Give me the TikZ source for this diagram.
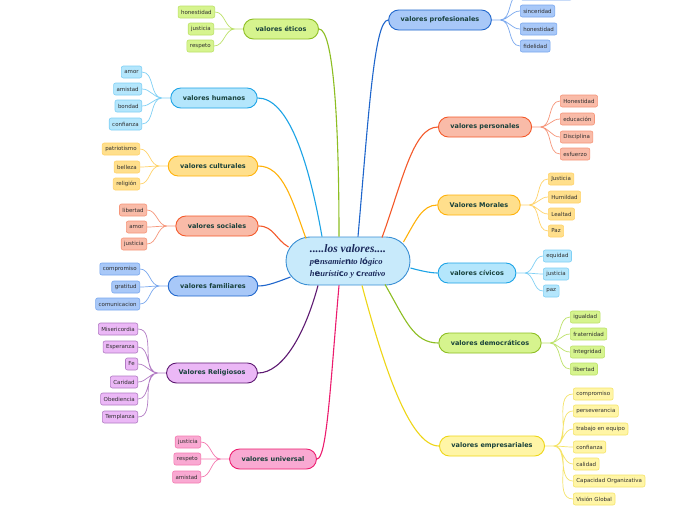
\documentclass[tikz,border=0pt]{standalone}
\usepackage{fontspec}
\usepackage{tikz}
\usetikzlibrary{calc}
\newfontfamily\mapfont{DejaVu Sans}
\newfontfamily\corefont{Liberation Serif}
\newcommand\glyf[1]{{\mapfont\upshape\bfseries #1}}
\definecolor{coreFill}{HTML}{C8EAFB}
\definecolor{coreDark}{HTML}{3A8FD4}
\definecolor{coreText}{HTML}{1B2A5C}
\definecolor{branchText}{HTML}{17403A}
\definecolor{leafText}{HTML}{2E2E2E}
\definecolor{limeFill}{HTML}{D6F48E}
\definecolor{limeDark}{HTML}{8DBE22}
\definecolor{limeSoft}{HTML}{BDE26A}
\definecolor{skyFill}{HTML}{B4E6FC}
\definecolor{skyDark}{HTML}{1BA3E6}
\definecolor{skySoft}{HTML}{80D0F5}
\definecolor{goldFill}{HTML}{FFDF8C}
\definecolor{goldDark}{HTML}{FFB20A}
\definecolor{goldSoft}{HTML}{FFD36A}
\definecolor{salmonFill}{HTML}{F9BBA8}
\definecolor{salmonDark}{HTML}{F4592A}
\definecolor{salmonSoft}{HTML}{F6967A}
\definecolor{azureFill}{HTML}{A8C8F8}
\definecolor{azureDark}{HTML}{1F66CC}
\definecolor{azureSoft}{HTML}{7AA8EE}
\definecolor{plumFill}{HTML}{EBB8F6}
\definecolor{plumDark}{HTML}{5E1A72}
\definecolor{plumSoft}{HTML}{B27BC4}
\definecolor{roseFill}{HTML}{F9A9D2}
\definecolor{roseDark}{HTML}{EC1C6E}
\definecolor{roseSoft}{HTML}{F47AB0}
\definecolor{lemonFill}{HTML}{FFF5A6}
\definecolor{lemonDark}{HTML}{EED616}
\definecolor{lemonSoft}{HTML}{F5E46A}

\begin{document}
\begin{tikzpicture}[x=1pt, y=-1pt,
  branch/.style={draw=#1Dark, fill=#1Fill, line width=0.9pt, rounded corners=10pt, minimum height=20pt, inner xsep=12pt, inner ysep=0pt, text=branchText, font=\mapfont\bfseries\fontsize{6.5}{7}\selectfont},
  leaf/.style={draw=#1Soft, fill=#1Fill, line width=0.6pt, rounded corners=2pt, minimum height=12pt, inner xsep=3pt, inner ysep=0pt, text=leafText, font=\mapfont\fontsize{5.5}{6}\selectfont},
  limb/.style={draw=#1Dark, line width=1.1pt},
  twig/.style={draw=#1Soft, line width=0.7pt}]
\useasboundingbox[fill=white] (0,0) rectangle (696,520);

\node[draw=coreDark, fill=coreFill, line width=0.9pt, rounded corners=24pt, minimum width=124pt, minimum height=48pt, inner sep=0pt, align=left, text=coreText, font=\corefont\bfseries\itshape] (core) at (348,261)
  {{\fontsize{11.5}{13}\selectfont .....los valores....}\\
   {\fontsize{8.5}{11.5}\selectfont p\glyf{e}nsamie\glyf{n}to l\glyf{ó}gico}\\
   {\fontsize{8.5}{11.5}\selectfont h\glyf{e}urísti\glyf{c}o y \glyf{c}reativo}};

\node[branch=lime] (etic) at (281,29) {valores éticos};
\node[branch=sky] (huma) at (214,98) {valores humanos};
\node[branch=gold] (cult) at (213,166) {valores culturales};
\node[branch=salmon] (soci) at (217,226) {valores sociales};
\node[branch=azure] (fami) at (213,286) {valores familiares};
\node[branch=plum] (reli) at (212,373) {Valores Religiosos};
\node[branch=rose] (univ) at (273,459) {valores universal};
\node[branch=azure] (prof) at (440,20) {valores profesionales};
\node[branch=salmon] (pers) at (485,127) {valores personales};
\node[branch=gold] (mora) at (479,205) {Valores Morales};
\node[branch=sky] (civi) at (477,273) {valores cívicos};
\node[branch=lime] (demo) at (490,343) {valores democráticos};
\node[branch=lemon] (empr) at (492,446) {valores empresariales};

\draw[limb=lime] (etic.east) to[out=0, in=90, out distance=14pt, in distance=120pt] ($(core.north)+(-9,0)$);
\draw[limb=sky] (huma.east) to[out=0, in=100, out distance=30pt, in distance=80pt] ($(core.north)+(-26,0)$);
\draw[limb=gold] (cult.east) to[out=0, in=110, out distance=25pt, in distance=40pt] ($(core.north)+(-42,2)$);
\draw[limb=salmon] (soci.east) to[out=0, in=150, out distance=15pt, in distance=15pt] ($(core.west)+(3,-14)$);
\draw[limb=azure] (fami.east) to[out=0, in=200, out distance=10pt, in distance=10pt] ($(core.west)+(5,16)$);
\draw[limb=plum] (reli.east) to[out=0, in=-105, out distance=25pt, in distance=50pt] ($(core.south)+(-30,0)$);
\draw[limb=rose] (univ.east) to[out=0, in=-95, out distance=10pt, in distance=100pt] ($(core.south)+(-9,0)$);
\draw[limb=azure] (prof.west) to[out=180, in=85, out distance=14pt, in distance=120pt] ($(core.north)+(10,0)$);
\draw[limb=salmon] (pers.west) to[out=180, in=70, out distance=25pt, in distance=60pt] ($(core.north)+(34,1)$);
\draw[limb=gold] (mora.west) to[out=180, in=60, out distance=15pt, in distance=25pt] ($(core.east)+(-7,-19)$);
\draw[limb=sky] (civi.west) to[out=180, in=-15, out distance=8pt, in distance=8pt] ($(core.east)+(0,7)$);
\draw[limb=lime] (demo.west) to[out=180, in=-60, out distance=25pt, in distance=40pt] ($(core.south)+(37,-1)$);
\draw[limb=lemon] (empr.west) to[out=180, in=-75, out distance=30pt, in distance=80pt] ($(core.south)+(14,0)$);

\node[leaf=lime, anchor=east] (etic1) at (215,12) {honestidad};
\node[leaf=lime, anchor=east] (etic2) at (214,29) {justicia};
\node[leaf=lime, anchor=east] (etic3) at (214,46) {respeto};
\node[leaf=sky, anchor=east] (huma1) at (142,72) {amor};
\node[leaf=sky, anchor=east] (huma2) at (142,89) {amistad};
\node[leaf=sky, anchor=east] (huma3) at (142,106) {bondad};
\node[leaf=sky, anchor=east] (huma4) at (142,124) {confianza};
\node[leaf=gold, anchor=east] (cult1) at (140,149) {patriotismo};
\node[leaf=gold, anchor=east] (cult2) at (140,167) {belleza};
\node[leaf=gold, anchor=east] (cult3) at (140,184) {religión};
\node[leaf=salmon, anchor=east] (soci1) at (147,210) {libertad};
\node[leaf=salmon, anchor=east] (soci2) at (147,227) {amor};
\node[leaf=salmon, anchor=east] (soci3) at (147,244) {justicia};
\node[leaf=azure, anchor=east] (fami1) at (140,269) {compromiso};
\node[leaf=azure, anchor=east] (fami2) at (140,287) {gratitud};
\node[leaf=azure, anchor=east] (fami3) at (140,304) {comunicacion};
\node[leaf=plum, anchor=east] (reli1) at (138,329) {Misericordia};
\node[leaf=plum, anchor=east] (reli2) at (138,347) {Esperanza};
\node[leaf=plum, anchor=east] (reli3) at (138,364) {Fe};
\node[leaf=plum, anchor=east] (reli4) at (138,382) {Caridad};
\node[leaf=plum, anchor=east] (reli5) at (138,399) {Obediencia};
\node[leaf=plum, anchor=east] (reli6) at (138,417) {Templanza};
\node[leaf=rose, anchor=east] (univ1) at (201,442) {justicia};
\node[leaf=rose, anchor=east] (univ2) at (201,459) {respeto};
\node[leaf=rose, anchor=east] (univ3) at (201,477) {amistad};

\node[leaf=azure, anchor=west, minimum width=52pt] (prof0) at (520,-6) {};
\node[leaf=azure, anchor=west] (prof1) at (520,11) {sinceridad};
\node[leaf=azure, anchor=west] (prof2) at (520,29) {honestidad};
\node[leaf=azure, anchor=west] (prof3) at (520,46) {fidelidad};
\node[leaf=salmon, anchor=west] (pers1) at (560,101) {Honestidad};
\node[leaf=salmon, anchor=west] (pers2) at (560,119) {educación};
\node[leaf=salmon, anchor=west] (pers3) at (560,137) {Disciplina};
\node[leaf=salmon, anchor=west] (pers4) at (560,154) {esfuerzo};
\node[leaf=gold, anchor=west] (mora1) at (548,179) {Justicia};
\node[leaf=gold, anchor=west] (mora2) at (548,197) {Humildad};
\node[leaf=gold, anchor=west] (mora3) at (548,214) {Lealtad};
\node[leaf=gold, anchor=west] (mora4) at (548,231) {Paz};
\node[leaf=sky, anchor=west] (civi1) at (543,256) {equidad};
\node[leaf=sky, anchor=west] (civi2) at (543,274) {justicia};
\node[leaf=sky, anchor=west] (civi3) at (543,291) {paz};
\node[leaf=lime, anchor=west] (demo1) at (570,317) {igualdad};
\node[leaf=lime, anchor=west] (demo2) at (570,334) {fraternidad};
\node[leaf=lime, anchor=west] (demo3) at (570,352) {Integridad};
\node[leaf=lime, anchor=west] (demo4) at (570,369) {libertad};
\node[leaf=lemon, anchor=west] (empr1) at (573,394) {compromiso};
\node[leaf=lemon, anchor=west] (empr2) at (573,411) {perseverancia};
\node[leaf=lemon, anchor=west] (empr3) at (573,429) {trabajo en equipo};
\node[leaf=lemon, anchor=west] (empr4) at (573,447) {confianza};
\node[leaf=lemon, anchor=west] (empr5) at (573,464) {calidad};
\node[leaf=lemon, anchor=west] (empr6) at (573,481) {Capacidad Organizativa};
\node[leaf=lemon, anchor=west] (empr7) at (573,499) {Visión Global};

\coordinate (eticH) at ($(etic.west)+(-8,0)$);
\coordinate (humaH) at ($(huma.west)+(-8,0)$);
\coordinate (cultH) at ($(cult.west)+(-8,0)$);
\coordinate (sociH) at ($(soci.west)+(-8,0)$);
\coordinate (famiH) at ($(fami.west)+(-8,0)$);
\coordinate (reliH) at ($(reli.west)+(-8,0)$);
\coordinate (univH) at ($(univ.west)+(-8,0)$);
\coordinate (profH) at ($(prof.east)+(8,0)$);
\coordinate (persH) at ($(pers.east)+(8,0)$);
\coordinate (moraH) at ($(mora.east)+(8,0)$);
\coordinate (civiH) at ($(civi.east)+(8,0)$);
\coordinate (demoH) at ($(demo.east)+(8,0)$);
\coordinate (emprH) at ($(empr.east)+(8,0)$);

\draw[twig=lime] (etic.west) -- (eticH) (eticH) to[out=180,in=0] (etic1.east) (eticH) to[out=180,in=0] (etic2.east) (eticH) to[out=180,in=0] (etic3.east);
\draw[twig=sky] (huma.west) -- (humaH) (humaH) to[out=180,in=0] (huma1.east) (humaH) to[out=180,in=0] (huma2.east) (humaH) to[out=180,in=0] (huma3.east) (humaH) to[out=180,in=0] (huma4.east);
\draw[twig=gold] (cult.west) -- (cultH) (cultH) to[out=180,in=0] (cult1.east) (cultH) to[out=180,in=0] (cult2.east) (cultH) to[out=180,in=0] (cult3.east);
\draw[twig=salmon] (soci.west) -- (sociH) (sociH) to[out=180,in=0] (soci1.east) (sociH) to[out=180,in=0] (soci2.east) (sociH) to[out=180,in=0] (soci3.east);
\draw[twig=azure] (fami.west) -- (famiH) (famiH) to[out=180,in=0] (fami1.east) (famiH) to[out=180,in=0] (fami2.east) (famiH) to[out=180,in=0] (fami3.east);
\draw[twig=plum] (reli.west) -- (reliH) (reliH) to[out=180,in=0] (reli1.east) (reliH) to[out=180,in=0] (reli2.east) (reliH) to[out=180,in=0] (reli3.east) (reliH) to[out=180,in=0] (reli4.east) (reliH) to[out=180,in=0] (reli5.east) (reliH) to[out=180,in=0] (reli6.east);
\draw[twig=rose] (univ.west) -- (univH) (univH) to[out=180,in=0] (univ1.east) (univH) to[out=180,in=0] (univ2.east) (univH) to[out=180,in=0] (univ3.east);
\draw[twig=azure] (prof.east) -- (profH) (profH) to[out=0,in=180] (prof0.west) (profH) to[out=0,in=180] (prof1.west) (profH) to[out=0,in=180] (prof2.west) (profH) to[out=0,in=180] (prof3.west);
\draw[twig=salmon] (pers.east) -- (persH) (persH) to[out=0,in=180] (pers1.west) (persH) to[out=0,in=180] (pers2.west) (persH) to[out=0,in=180] (pers3.west) (persH) to[out=0,in=180] (pers4.west);
\draw[twig=gold] (mora.east) -- (moraH) (moraH) to[out=0,in=180] (mora1.west) (moraH) to[out=0,in=180] (mora2.west) (moraH) to[out=0,in=180] (mora3.west) (moraH) to[out=0,in=180] (mora4.west);
\draw[twig=sky] (civi.east) -- (civiH) (civiH) to[out=0,in=180] (civi1.west) (civiH) to[out=0,in=180] (civi2.west) (civiH) to[out=0,in=180] (civi3.west);
\draw[twig=lime] (demo.east) -- (demoH) (demoH) to[out=0,in=180] (demo1.west) (demoH) to[out=0,in=180] (demo2.west) (demoH) to[out=0,in=180] (demo3.west) (demoH) to[out=0,in=180] (demo4.west);
\draw[twig=lemon] (empr.east) -- (emprH) (emprH) to[out=0,in=180] (empr1.west) (emprH) to[out=0,in=180] (empr2.west) (emprH) to[out=0,in=180] (empr3.west) (emprH) to[out=0,in=180] (empr4.west) (emprH) to[out=0,in=180] (empr5.west) (emprH) to[out=0,in=180] (empr6.west) (emprH) to[out=0,in=180] (empr7.west);
\end{tikzpicture}
\end{document}
